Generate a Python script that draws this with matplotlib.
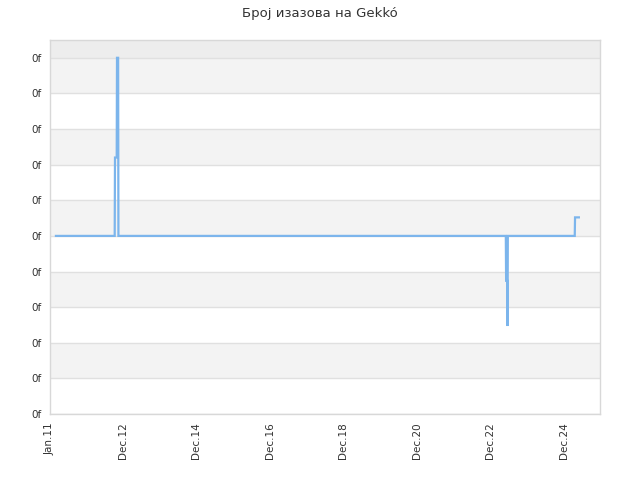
import matplotlib
matplotlib.use("Agg")
import matplotlib.pyplot as plt
import pandas as pd

# data (y labels are all "0f")
dates = ["2011-03-01", "2012-10-05", "2012-10-08", "2012-10-25", "2012-10-28",
         "2012-11-08", "2012-11-11", "2023-05-28", "2023-05-31", "2023-06-10",
         "2023-06-14", "2023-06-17", "2025-04-12", "2025-04-15", "2025-05-23"]
values = [0, 0, 2.2, 2.2, 5, 5, 0, 0, -1.26, -1.26, -2.53, 0, 0, 0.52, 0.52]
tick_dates = ["2011-01-01", "2012-12-26", "2014-12-26", "2016-12-26", "2018-12-26",
              "2020-12-26", "2022-12-26", "2024-12-26"]
tick_labels = ["Jan.11", "Dec.12", "Dec.14", "Dec.16", "Dec.18", "Dec.20", "Dec.22", "Dec.24"]
y_ticks = [-5, -4, -3, -2, -1, 0, 1, 2, 3, 4, 5]
y_labels = ["0f"] * len(y_ticks)
title = "Број изазова на Gekkó"

fig = plt.figure(figsize=(6.4, 4.8), dpi=100)
ax = fig.add_axes([50/640, 66/480, 550/640, 374/480])

x = pd.to_datetime(dates)
ax.set_xlim(pd.Timestamp("2011-01-01"), pd.Timestamp("2025-12-19"))
ax.set_ylim(-5, 5.5)

# bands
ax.axhspan(5, 5.5, color="#ededed", zorder=0, lw=0)
for i, lo in enumerate(range(-5, 5)):
    if i % 2 == 1:
        ax.axhspan(lo, lo + 1, color="#f3f3f3", zorder=0, lw=0)
for yv in y_ticks:
    ax.axhline(yv, color="#e0e0e0", lw=1, zorder=1)

ax.plot(x, values, color="#7cb5ec", lw=1.6, zorder=3, solid_joinstyle="miter")

ax.set_yticks(y_ticks)
ax.set_yticklabels(y_labels, fontsize=7.5, color="#333333")
ax.set_xticks(pd.to_datetime(tick_dates))
ax.set_xticklabels(tick_labels, rotation=90, fontsize=7.5, color="#333333")
ax.tick_params(length=0, pad=6)
for s in ax.spines.values():
    s.set_color("#d8d8d8")
    s.set_linewidth(1)

fig.suptitle(title, y=0.985, fontsize=9.5, color="#333333")
fig.savefig("out.png", dpi=100)
